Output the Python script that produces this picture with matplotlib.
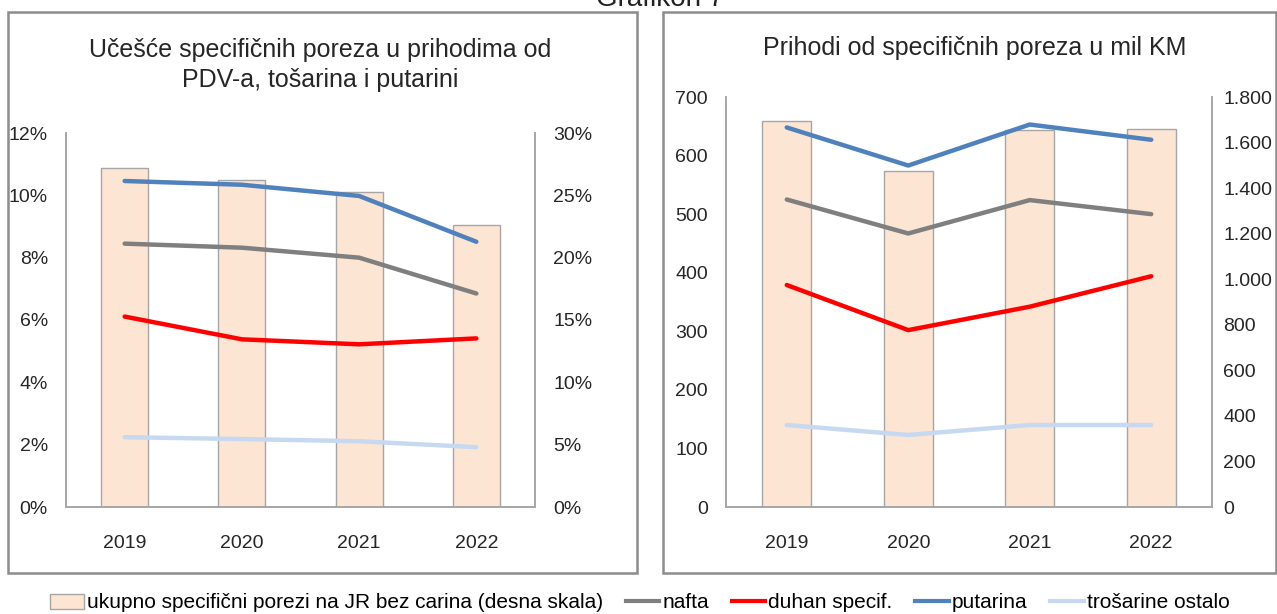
import matplotlib
matplotlib.use('Agg')
import matplotlib.pyplot as plt
from matplotlib.patches import Rectangle, Patch
from matplotlib.lines import Line2D
from matplotlib.ticker import FuncFormatter
import numpy as np

plt.rcParams['font.family'] = ['Liberation Sans', 'DejaVu Sans']

years = ['2019', '2020', '2021', '2022']

# Left chart: shares (%)
share_total = [27.2, 26.2, 25.3, 22.6]        # bars, right scale
share_nafta = [8.45, 8.32, 8.0, 6.85]
share_duhan = [6.11, 5.38, 5.22, 5.41]
share_putarina = [10.46, 10.34, 9.98, 8.51]
share_ostalo = [2.24, 2.18, 2.11, 1.92]

# Right chart: revenues (mil KM)
rev_total = [1695, 1475, 1655, 1659]          # bars, right scale
rev_nafta = [525, 467, 524, 500]
rev_duhan = [379, 302, 342, 394]
rev_putarina = [648, 583, 653, 627]
rev_ostalo = [140, 123, 140, 140]

BAR_FACE = '#fde5d3'
BAR_EDGE = '#a6a6a6'
C_NAFTA = '#7f7f7f'
C_DUHAN = '#ff0000'
C_PUT = '#4f81bd'
C_OST = '#c6d9f1'
SPINE = '#a6a6a6'
TXT = '#262626'

fig = plt.figure(figsize=(12.77, 6.14), dpi=100)

# panel frames
for x0, w in [(8, 629), (663, 613)]:
    fig.patches.append(Rectangle((x0 / 1277, 1 - 573 / 614), w / 1277, 561 / 614,
                                 transform=fig.transFigure, fill=False,
                                 edgecolor='#8c8c8c', linewidth=1.8))

# heading, cut off at the top as in the source
fig.text(660 / 1277, 1 - 6 / 614, 'Grafikon 7', ha='center', va='baseline', fontsize=20,
         color='#222222')


def make_panel(rect, lines, bars, lmax, lstep, rmax, rstep, lfmt, rfmt, rpad):
    ax = fig.add_axes(rect)
    ax2 = ax.twinx()
    x = np.arange(len(years))
    ax2.bar(x, bars, width=0.4, color=BAR_FACE, edgecolor=BAR_EDGE, linewidth=1)
    for vals, col in lines:
        ax.plot(x, vals, color=col, linewidth=3.2, solid_capstyle='round')
    ax.set_zorder(2)
    ax2.set_zorder(1)
    ax.patch.set_visible(False)
    ax.set_xlim(-0.5, len(years) - 0.5)
    ax.set_ylim(0, lmax)
    ax2.set_ylim(0, rmax)
    ax.set_yticks(np.arange(0, lmax + lstep / 2, lstep))
    ax2.set_yticks(np.arange(0, rmax + rstep / 2, rstep))
    ax.yaxis.set_major_formatter(FuncFormatter(lfmt))
    ax2.yaxis.set_major_formatter(FuncFormatter(rfmt))
    ax.set_xticks(x)
    ax.set_xticklabels(years)
    for a in (ax, ax2):
        a.spines['top'].set_visible(False)
        for s in ('left', 'right', 'bottom'):
            a.spines[s].set_color(SPINE)
            a.spines[s].set_linewidth(1.2)
        a.tick_params(length=0, labelsize=14, colors=TXT)
    ax.tick_params(axis='y', pad=13)
    ax2.tick_params(axis='y', pad=rpad)
    ax.tick_params(axis='x', pad=20)
    return ax


pct = lambda v, p: f'{v:.0f}%'
thou = lambda v, p: f'{int(v):,}'.replace(',', '.')

make_panel([66 / 1277, 1 - 507 / 614, 469 / 1277, 374 / 614],
           [(share_ostalo, C_OST), (share_nafta, C_NAFTA), (share_duhan, C_DUHAN),
            (share_putarina, C_PUT)],
           share_total, 12, 2, 30, 5, pct, pct, 13)

make_panel([726 / 1277, 1 - 507 / 614, 486 / 1277, 410 / 614],
           [(rev_ostalo, C_OST), (rev_nafta, C_NAFTA), (rev_duhan, C_DUHAN),
            (rev_putarina, C_PUT)],
           rev_total, 700, 100, 1800, 200, thou, thou, 8)

fig.text(320 / 1277, 1 - 65 / 614, 'Učešće specifičnih poreza u prihodima od\nPDV-a, tošarina i putarini',
         ha='center', va='center', fontsize=18, linespacing=1.35, color=TXT)
fig.text(975 / 1277, 1 - 48 / 614, 'Prihodi od specifičnih poreza u mil KM',
         ha='center', va='center', fontsize=18, color=TXT)

handles = [Patch(facecolor=BAR_FACE, edgecolor=BAR_EDGE),
           Line2D([], [], color=C_NAFTA, linewidth=3),
           Line2D([], [], color=C_DUHAN, linewidth=3),
           Line2D([], [], color=C_PUT, linewidth=3),
           Line2D([], [], color=C_OST, linewidth=3)]
labels = ['ukupno specifični porezi na JR bez carina (desna skala)', 'nafta',
          'duhan specif.', 'putarina', 'trošarine ostalo']
fig.legend(handles, labels, loc='center', bbox_to_anchor=(640 / 1277, 1 - 603 / 614),
           ncol=5, frameon=False, fontsize=15, handlelength=1.6, handletextpad=0.15,
           columnspacing=1.1, borderpad=0)

fig.savefig('out.png', dpi=100)
